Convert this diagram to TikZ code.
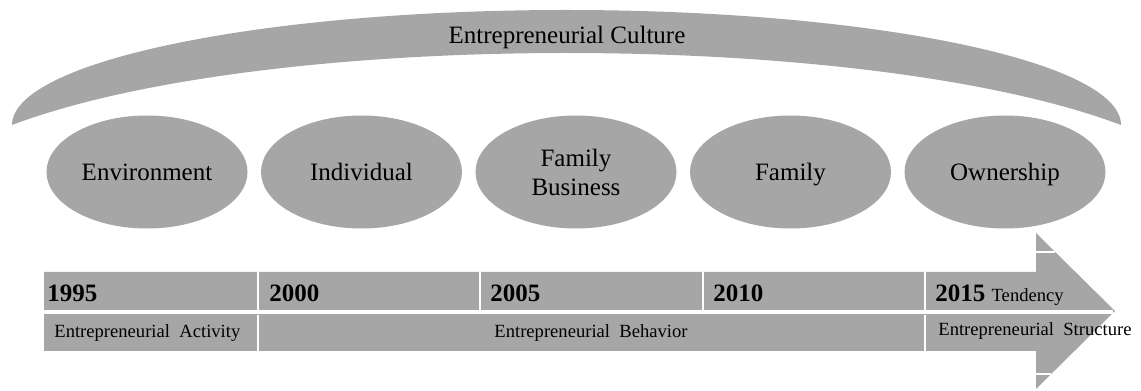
\documentclass[tikz,border=0pt]{standalone}
\usepackage{fontspec}
\setmainfont{Liberation Serif}
\usetikzlibrary{shapes.geometric}
\definecolor{bargray}{RGB}{166,166,166}

\begin{document}
\begin{tikzpicture}[x=0.5pt, y=0.5pt,
    every node/.style = {inner sep=0pt, text=black},
    stage/.style = {shape=ellipse, fill=bargray, align=center,
      minimum width=100.5pt, minimum height=56.5pt, text depth=0pt,
      font=\fontsize{12.5}{14.5}\selectfont},
    year/.style = {anchor=base west, font=\fontsize{12.5}{14}\selectfont\bfseries},
    phase/.style = {anchor=base west, font=\fontsize{9.3}{11}\selectfont},
    sep/.style = {draw=white, line width=1pt}]
  \useasboundingbox (0,0) rectangle (1141,391);

  % culture band
  \fill[bargray] (12,266) arc[start angle=180, end angle=0,
      x radius=277.25pt, y radius=57.5pt]
    .. controls (866.5,362) and (266.5,362) .. (12,266) -- cycle;
  \node[font=\fontsize{12.5}{14}\selectfont] (culture) at (567,354) {Entrepreneurial Culture};

  % stages
  \node[stage] (environment) at (147,219) {Environment};
  \node[stage] (individual) at (361.5,219) {Individual};
  \node[stage] (famBusiness) at (576,219) {Family\\Business};
  \node[stage] (family) at (790.5,219) {Family};
  \node[stage] (ownership) at (1005,219) {Ownership};

  % time arrow
  \fill[bargray] (44,119) -- (1036,119) -- (1036,158) -- (1115,80)
    -- (1036,2) -- (1036,40) -- (44,40) -- cycle;
  \draw[sep, line width=2pt] (44,78.5) -- (1113,78.5);
  \foreach \x in {258,480,703,925}
    \draw[sep] (\x,119) -- (\x,81);
  \foreach \x in {258,925}
    \draw[sep] (\x,76) -- (\x,40);
  \draw[sep] (1036,139) -- (1055,139);
  \draw[sep] (1036,17) -- (1051,17);

  \node[year] (y1995) at (47,89) {1995};
  \node[year] (y2000) at (269,89) {2000};
  \node[year] (y2005) at (490,89) {2005};
  \node[year] (y2010) at (713,89) {2010};
  \node[year] (y2015) at (935,89) {2015 {\mdseries\fontsize{9.3}{11}\selectfont Tendency}};

  \node[phase] (activity) at (54,54) {Entrepreneurial~~Activity};
  \node[phase, anchor=base] (behavior) at (591,54) {Entrepreneurial~~Behavior};
  \node[phase] (structure) at (938,55) {Entrepreneurial~~Structure};
\end{tikzpicture}
\end{document}
